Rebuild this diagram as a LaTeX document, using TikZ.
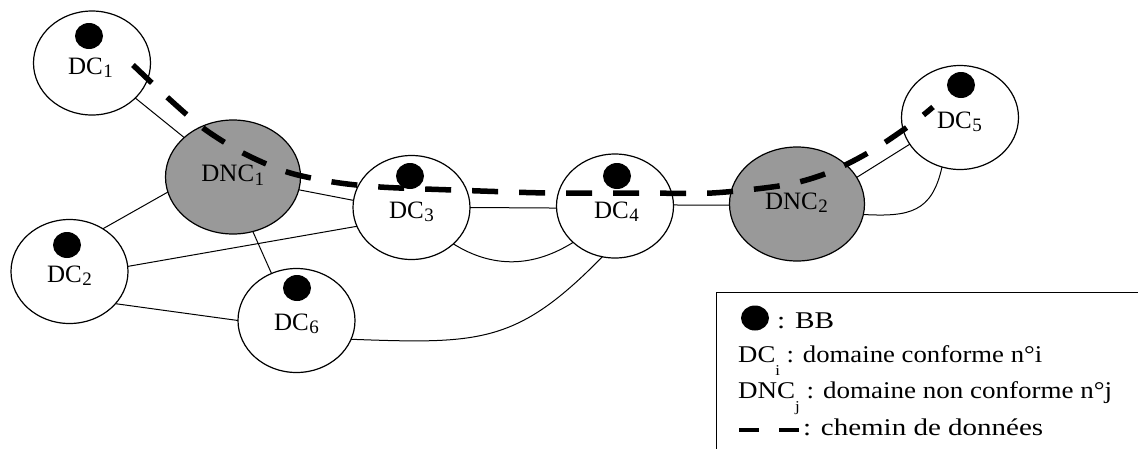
\documentclass[tikz,border=0pt]{standalone}
\usepackage{fontspec}
\setmainfont{Liberation Serif}
\usepackage{graphicx}
\usetikzlibrary{shapes.geometric}
\definecolor{dncgray}{RGB}{153,153,153}
\newsavebox\fitbox
\newlength\fitlen
\newcommand\fitw[2]{\sbox\fitbox{#2}\setlength\fitlen{\wd\fitbox}\pgfmathsetmacro\fitfac{#1/\fitlen}\scalebox{\fitfac}[1]{\usebox\fitbox}}
\newcommand\lblsub[1]{\kern0.5pt\raisebox{-3.5pt}{\fontsize{19}{19}\selectfont #1}}
\newcommand\legsub[1]{\raisebox{-13pt}{\fontsize{15}{15}\selectfont #1}}
\tikzset{
  dom/.style={ellipse, draw, line width=1.2pt, fill=white, minimum width=117pt, minimum height=104pt, inner sep=0pt, outer sep=0pt},
  ndom/.style={dom, fill=dncgray, minimum width=135pt, minimum height=114pt},
  bb/.style={ellipse, fill=black, minimum width=28pt, minimum height=26pt, inner sep=0pt, outer sep=0pt},
  lbl/.style={inner sep=0pt, anchor=base, font=\fontsize{25}{25}\selectfont},
  leg/.style={inner sep=0pt, anchor=base west, font=\fontsize{24}{24}\selectfont},
  edge/.style={line width=1pt},
  datapath/.style={line width=5.5pt, dash pattern=on 26pt off 21pt},
}
\begin{document}
\begin{tikzpicture}[x=1pt,y=1pt]
\useasboundingbox (0,0) rectangle (1138,-448);
% domains
\node[dom]  (dc1)  at (92,-63) {};
\node[ndom] (dnc1) at (233,-177) {};
\node[dom]  (dc2)  at (69.5,-271.5) {};
\node[dom]  (dc3)  at (411.5,-207.5) {};
\node[dom]  (dc4)  at (615,-206) {};
\node[dom]  (dc6)  at (296.5,-320.5) {};
\node[ndom] (dnc2) at (797,-204) {};
\node[dom]  (dc5)  at (960,-117.5) {};
% links
\draw[edge] (dc1) -- (dnc1);
\draw[edge] (dnc1.193) -- (dc2.52);
\draw[edge] (dnc1.-11) -- (dc3.173);
\draw[edge] (dnc1.-70) -- (dc6.118);
\draw[edge] (dc2.5) -- (dc3.199);
\draw[edge] (dc2.-35) -- (dc6.180);
\draw[edge] (dc3.0) -- (dc4.182);
\draw[edge] (dc3.-41) to[out=-32,in=-148] (dc4.-139);
\draw[edge] (dc6.-19) .. controls (480,-344) and (517,-344) .. (dc4.-104);
\draw[edge] (dc4.1) -- (dnc2.181);
\draw[edge] (dnc2.24) -- (dc5.208);
\draw[edge] (dnc2.-9) .. controls (910,-217) and (932,-212) .. (dc5.-110);
% BB dots
\node[bb] (bb1) at (89,-36) {};
\node[bb] (bb2) at (67,-245) {};
\node[bb] (bb3) at (410,-176) {};
\node[bb] (bb4) at (617,-176) {};
\node[bb] (bb6) at (297,-288) {};
\node[bb] (bb5) at (961,-85) {};
% data path
\coordinate (pathstart) at (133,-65);
\coordinate (pathend) at (933,-107);
\draw[datapath] plot[smooth, tension=0.5] coordinates {(pathstart) (167,-97) (203,-128) (243,-153) (287,-172) (333,-182) (380,-187) (453,-190) (548,-193) (643,-193) (712,-193) (785,-185) (830,-172) (873,-150) (913,-123) (pathend)};
% labels
\node[lbl] (l1) at (90.5,-74) {DC\lblsub{1}};
\node[lbl] (ln1) at (232.8,-181.7) {DNC\lblsub{1}};
\node[lbl] (l2) at (69.5,-282) {DC\lblsub{2}};
\node[lbl] (l3) at (411.5,-218) {DC\lblsub{3}};
\node[lbl] (l4) at (616.5,-218) {DC\lblsub{4}};
\node[lbl] (l6) at (296.5,-330) {DC\lblsub{6}};
\node[lbl] (l5) at (959.5,-128) {DC\lblsub{5}};
\node[lbl] (ln2) at (796.5,-209) {DNC\lblsub{2}};
% legend
\coordinate (legtr) at (1140,-292.5);
\coordinate (legc) at (716.5,-292.5);
\coordinate (legbl) at (716.5,-450);
\draw[line width=1.2pt] (legtr) -- (legc) -- (legbl);
\node[bb, minimum height=25pt] (legbb) at (755,-318) {};
\node[leg] (legt1) at (777,-328) {\fitw{57}{: BB}};
\node[leg] (legt2) at (738,-362) {\fitw{304}{DC\legsub{i} : domaine conforme n°i}};
\node[leg] (legt3) at (738,-398) {\fitw{374}{DNC\legsub{j} : domaine non conforme n°j}};
\coordinate (legd1) at (739,-430);
\coordinate (legd2) at (799,-430);
\draw[datapath, line width=4.5pt, dash pattern=on 20pt off 20pt] (legd1) -- (legd2);
\node[leg] (legt4) at (803,-435) {\fitw{240}{: chemin de données}};
\end{tikzpicture}
\end{document}
